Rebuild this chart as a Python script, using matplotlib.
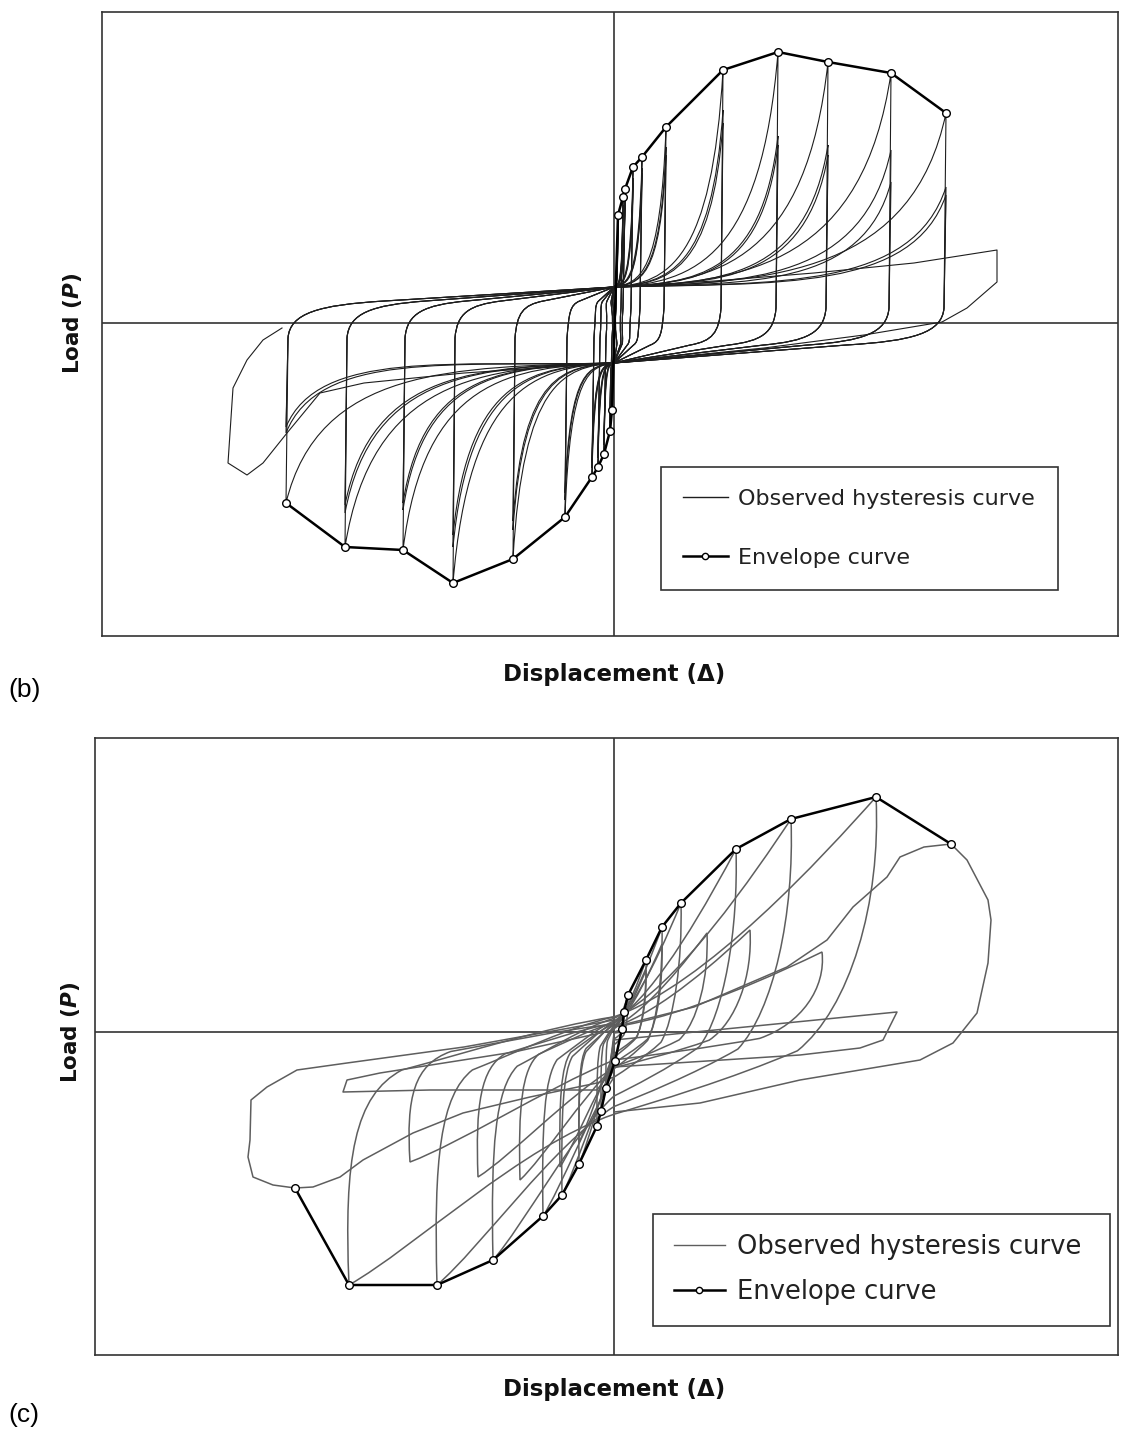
import matplotlib.pyplot as plt
from matplotlib.path import Path
from matplotlib.patches import PathPatch
from matplotlib.lines import Line2D

# ---------------- panel (b) ----------------
# envelope (displacement, load), from the largest negative to the largest positive peak
b_env_d = [-328, -269, -211, -161, -101, -49, -22, -16, -10, -4, -2,
           4, 9, 11, 19, 28, 52, 109, 164, 214, 277, 332]
b_env_p = [-180, -224, -227, -260, -236, -194, -154, -144, -131, -108, -87,
           108, 126, 134, 156, 166, 196, 253, 271, 261, 250, 210]

# loading levels: amplitude and peak load of the 1st, 2nd and 3rd cycle
b_amp_pos = [4, 9, 11, 19, 28, 52, 109, 164, 214, 277, 332]
b_pos_1 = [108, 126, 134, 156, 166, 196, 253, 271, 261, 250, 210]
b_pos_2 = [100, 118, 125, 145, 155, 176, 213, 187, 178, 173, 136]
b_pos_3 = [95, 112, 120, 140, 150, 168, 200, 178, 168, 141, 128]
b_amp_neg = [2, 4, 10, 16, 22, 49, 101, 161, 211, 269, 328]
b_neg_1 = [87, 108, 131, 144, 154, 194, 236, 260, 227, 224, 180]
b_neg_2 = [80, 100, 122, 135, 145, 177, 207, 224, 187, 190, 110]
b_neg_3 = [76, 95, 118, 130, 140, 170, 198, 212, 180, 182, 104]
# load at zero displacement on the pinched branches
b_pinch_up, b_pinch_lo = 36, -40

# last cycles, past the largest level
b_tail_r_d = [0, 100, 200, 300, 383, 383, 353, 328, 250, 150, 0]
b_tail_r_p = [36, 42, 50, 60, 73, 41, 15, 1, -12, -25, -40]
b_tail_l_d = [0, -150, -250, -294, -327, -351, -367, -386, -381, -367, -351, -332]
b_tail_l_p = [-40, -50, -60, -70, -110, -140, -152, -140, -65, -37, -17, -5]

# ---------------- panel (c) ----------------
c_env_d = [-319, -265, -177, -121, -71, -52, -35, -17, -13, -8, 1,
           8, 10, 14, 32, 48, 67, 122, 177, 262, 337]
c_env_p = [-156, -253, -253, -228, -184, -163, -132, -94, -79, -56, -29,
           3, 20, 37, 72, 105, 129, 183, 213, 235, 188]

c_amp_pos = [8, 10, 14, 32, 48, 67, 122, 177, 262]
c_pos_1 = [3, 20, 37, 72, 105, 129, 183, 213, 235]
c_amp_neg = [8, 13, 17, 35, 52, 71, 121, 177, 265]
c_neg_1 = [56, 79, 94, 132, 163, 184, 228, 253, 253]
# repeated cycles reach lower loads
c_amp_pos2 = [32, 48, 93, 136, 208]
c_pos_2 = [62, 88, 99, 102, 80]
c_amp_neg2 = [35, 54, 94, 136, 204]
c_neg_2 = [110, 135, 148, 145, 130]

# final positive excursion and its unloading
c_last_d = [0, 80, 173, 213, 239, 273, 286, 310, 337, 353, 374, 377, 374, 363, 339, 306, 186, 86, 0]
c_last_p = [5, 25, 65, 92, 125, 155, 175, 185, 188, 172, 132, 112, 69, 19, -11, -28, -48, -71, -80]
# final negative excursion
c_left_d = [0, -17, -84, -151, -201, -251, -274, -301, -319, -341, -361, -366, -364,
            -363, -347, -317, -267, -150, 0]
c_left_p = [-45, -51, -65, -81, -101, -128, -145, -155, -156, -153, -145, -125, -108,
            -68, -55, -38, -31, -15, 12]
# low-load cycle after failure
c_sliver_d = [0, 283, 269, 246, 186, 0, -17, -184, -271, -267, -234, -100, 0]
c_sliver_p = [-8, 20, -8, -16, -23, -35, -58, -58, -60, -48, -41, -20, 2]

B_LINE = '#1e1e1e'
C_LINE = '#5e5e5e'
FRAME = '#333333'
C4 = Path.CURVE4


def cycle_b(ax, a, p, b, q):
    up, lo = b_pinch_up, b_pinch_lo
    verts = [(0, up),
             (0.5 * a, up + 4), (0.9 * a, 0.25 * p), (a, p),   # reloading, flat then steep
             (a - 2, 15),                                        # unloading, near vertical
             (a - 4, -10), (0.9 * a, -18), (0.7 * a, -22),
             (0, lo),
             (-0.5 * b, lo - 4), (-0.9 * b, -0.25 * q), (-b, -q),
             (-b + 2, -15),
             (-b + 4, 10), (-0.9 * b, 18), (-0.7 * b, 22),
             (0, up)]
    codes = [Path.MOVETO, C4, C4, C4, Path.LINETO, C4, C4, C4, Path.LINETO,
             C4, C4, C4, Path.LINETO, C4, C4, C4, Path.LINETO]
    ax.add_patch(PathPatch(Path(verts, codes), fill=False, ec=B_LINE, lw=0.8, zorder=2))


def cycle_c(ax, s, a, p, b, q):
    y1 = -0.35 * p
    y2 = 0.06 * q
    verts = [(0, s),
             (0.35 * a, 0.2 * p), (0.8 * a, 0.75 * p), (a, p),
             (1.02 * a, 0.55 * p), (0.9 * a, 0.1 * p), (0.7 * a, -0.08 * p),
             (0.45 * a, -0.2 * p), (0.15 * a, -0.3 * p), (0, y1),
             (-0.35 * b, -0.45 * q), (-0.75 * b, -0.85 * q), (-b, -q),
             (-1.02 * b, -0.5 * q), (-0.98 * b, -0.25 * q), (-0.8 * b, -0.15 * q),
             (-0.55 * b, -0.08 * q), (-0.25 * b, 0.02 * q), (0, y2)]
    codes = [Path.MOVETO] + [C4] * 18
    ax.add_patch(PathPatch(Path(verts, codes), fill=False, ec=C_LINE, lw=1.1, zorder=2))
    return y2


W, H = 1121, 1443
fig = plt.figure(figsize=(W / 100, H / 100), dpi=100)
ax_b = fig.add_axes([102 / W, 1 - 636 / H, 1016 / W, 624 / H])
ax_c = fig.add_axes([95 / W, 1 - 1355 / H, 1023 / W, 617 / H])
ax_b.set_xlim(-512, 504)
ax_b.set_ylim(-313, 311)
ax_c.set_xlim(-519, 504)
ax_c.set_ylim(-323, 294)

# (b) hysteresis
for i in range(len(b_amp_pos)):
    for pp, qq in ((b_pos_1, b_neg_1), (b_pos_2, b_neg_2), (b_pos_3, b_neg_3)):
        cycle_b(ax_b, b_amp_pos[i], pp[i], b_amp_neg[i], qq[i])
ax_b.plot(b_tail_r_d, b_tail_r_p, color=B_LINE, lw=0.8, zorder=2)
ax_b.plot(b_tail_l_d, b_tail_l_p, color=B_LINE, lw=0.8, zorder=2)
ax_b.plot(b_env_d, b_env_p, color='black', lw=1.8, marker='o', ms=5.5,
          mfc='white', mec='black', mew=1.0, zorder=5)

# (c) hysteresis
start = 0
for i in range(len(c_amp_pos)):
    start = cycle_c(ax_c, start, c_amp_pos[i], c_pos_1[i], c_amp_neg[i], c_neg_1[i])
for i in range(len(c_amp_pos2)):
    cycle_c(ax_c, 5, c_amp_pos2[i], c_pos_2[i], c_amp_neg2[i], c_neg_2[i])
ax_c.plot(c_last_d, c_last_p, color=C_LINE, lw=1.1, zorder=2)
ax_c.plot(c_left_d, c_left_p, color=C_LINE, lw=1.1, zorder=2)
ax_c.plot(c_sliver_d, c_sliver_p, color=C_LINE, lw=1.1, zorder=2)
ax_c.plot(c_env_d, c_env_p, color='black', lw=1.8, marker='o', ms=5.5,
          mfc='white', mec='black', mew=1.0, zorder=5)

plt.rcParams['mathtext.fontset'] = 'dejavusans'

legend_spec = [
    (ax_b, B_LINE, (0.5502, 0.0737, 0.3907, 0.1987), 16, 1.75, 1.0),
    (ax_c, C_LINE, (0.5455, 0.047, 0.4467, 0.185), 18.5, 0.75, 0.8),
]
for ax, lc, box, fs, lsp, bpad in legend_spec:
    ax.set_xticks([])
    ax.set_yticks([])
    for s in ax.spines.values():
        s.set_color(FRAME)
        s.set_linewidth(1.2)
    ax.axhline(0, color=FRAME, lw=1.2, zorder=1)
    ax.axvline(0, color=FRAME, lw=1.2, zorder=1)
    ax.set_xlabel('Displacement (Δ)', fontsize=16.5, fontweight='bold', color='#111')
    ax.set_ylabel(r'Load ($\mathbfit{P}$)', fontsize=15.5, fontweight='bold', color='#111')
    ax.xaxis.label.set_va('center')
    ax.yaxis.label.set_va('center')
    h1 = Line2D([], [], color=lc, lw=1.0)
    h2 = Line2D([], [], color='black', lw=1.8, marker='o', ms=4.5, mfc='white', mec='black')
    leg = ax.legend([h1, h2], ['Observed hysteresis curve', 'Envelope curve'],
                    loc='lower left', bbox_to_anchor=box, mode='expand',
                    borderaxespad=0, fancybox=False, edgecolor=FRAME, framealpha=1,
                    fontsize=fs, labelspacing=lsp, borderpad=bpad,
                    handlelength=2.0, handletextpad=0.45)
    leg.get_frame().set_linewidth(1.2)
    for t in leg.get_texts():
        t.set_color('#222')

ax_b.xaxis.set_label_coords(0.504, -0.061)
ax_b.yaxis.set_label_coords(-0.0295, 0.5016)
ax_c.xaxis.set_label_coords(0.507, -0.0567)
ax_c.yaxis.set_label_coords(-0.0244, 0.5235)

fig.text(8 / W, 1 - 690 / H, '(b)', fontsize=19, family='Liberation Sans', va='center')
fig.text(8 / W, 1 - 1415 / H, '(c)', fontsize=19, family='Liberation Sans', va='center')

fig.savefig('out.png', dpi=100, facecolor='white')
